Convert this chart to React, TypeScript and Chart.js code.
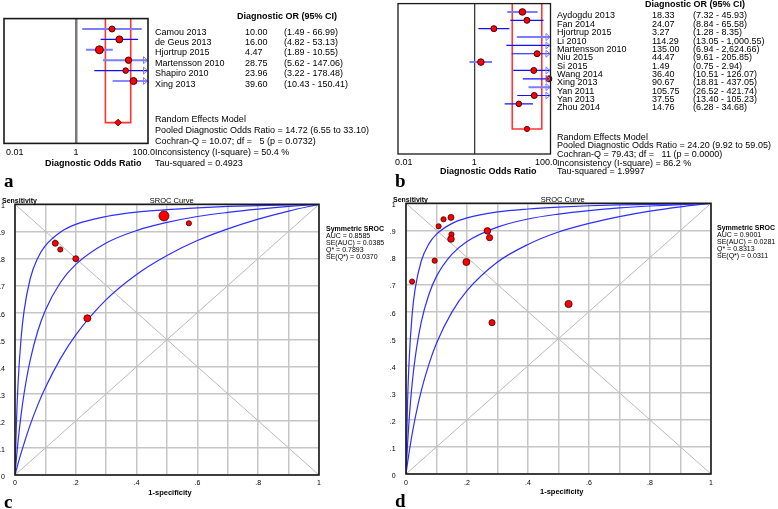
import React, { useEffect, useRef } from 'react';
import { Chart, registerables } from 'chart.js';

Chart.register(...registerables);

const FONT = '"Liberation Sans", Arial, Helvetica, sans-serif';
const SERIF = '"Liberation Serif", "Times New Roman", serif';
const LIGHT_BLUE = '#7c7cff';
const DARK_BLUE = '#1010ff';
const CURVE_BLUE = '#2e2eff';
const RED = '#ff0000';

// ================= Panel a : forest plot =================
const studiesA = ['Camou 2013', 'de Geus 2013', 'Hjortrup 2015', 'Martensson 2010', 'Shapiro 2010', 'Xing 2013'];
const dorA = [10.0, 16.0, 4.47, 28.75, 23.96, 39.6];
const ciLowA = [1.49, 4.82, 1.89, 5.62, 3.22, 10.43];
const ciHighA = [66.99, 53.13, 10.55, 147.06, 178.48, 150.41];
const weightRadiusA = [3, 3.5, 4, 3.2, 2.8, 3.5];
const ciToneA = ['light', 'dark', 'light', 'light', 'dark', 'dark'];
const pooledA = [14.72, 6.55, 33.1];
const statsA = [
  'Random Effects Model',
  'Pooled Diagnostic Odds Ratio = 14.72 (6.55 to 33.10)',
  'Cochran-Q = 10.07; df =   5 (p = 0.0732)',
  'Inconsistency (I-square) = 50.4 %',
  'Tau-squared = 0.4923',
];

// ================= Panel b : forest plot =================
const studiesB = ['Aydogdu 2013', 'Fan 2014', 'Hjortrup 2015', 'Li 2010', 'Martensson 2010', 'Niu 2015', 'Si 2015', 'Wang 2014', 'Xing 2013', 'Yan 2011', 'Yan 2013', 'Zhou 2014'];
const dorB = [18.33, 24.07, 3.27, 114.29, 135.0, 44.47, 1.49, 36.4, 90.67, 105.75, 37.55, 14.76];
const ciLowB = [7.32, 8.84, 1.28, 13.05, 6.94, 9.61, 0.75, 10.51, 18.81, 26.52, 13.4, 6.28];
const ciHighB = [45.93, 65.58, 8.35, 1000.55, 2624.66, 205.85, 2.94, 126.07, 437.05, 421.74, 105.23, 34.68];
const weightRadiusB = [3.3, 3, 3, 3, 3, 3, 3.3, 3, 3, 3, 3, 2.8];
const ciToneB = ['light', 'dark', 'dark', 'light', 'dark', 'dark', 'light', 'dark', 'dark', 'light', 'dark', 'dark'];
const pooledB = [24.2, 9.92, 59.05];
const statsB = [
  'Random Effects Model',
  'Pooled Diagnostic Odds Ratio = 24.20 (9.92 to 59.05)',
  'Cochran-Q = 79.43; df =   11 (p = 0.0000)',
  'Inconsistency (I-square) = 86.2 %',
  'Tau-squared = 1.9997',
];

const forestHeader = 'Diagnostic OR (95% CI)';
const forestAxisTitle = 'Diagnostic Odds Ratio';
const forestTickValues = [0.01, 1, 100];
const forestTickLabels = ['0.01', '1', '100.0'];
const FOREST_MIN = 0.01;
const FOREST_MAX = 100;

// ================= SROC panels c & d =================
const srocTickYValues = [0, 0.1, 0.2, 0.3, 0.4, 0.5, 0.6, 0.7, 0.8, 0.9, 1];
const srocTickYLabels = ['0', '.1', '.2', '.3', '.4', '.5', '.6', '.7', '.8', '.9', '1'];
const srocTickXValues = [0, 0.2, 0.4, 0.6, 0.8, 1];
const srocTickXLabels = ['0', '.2', '.4', '.6', '.8', '1'];

const curveFpr = [0, 0.005, 0.01, 0.02, 0.03, 0.05, 0.075, 0.1, 0.15, 0.2, 0.3, 0.4, 0.5, 0.6, 0.7, 0.8, 0.9, 1];

const curveUpperC = [0, 0.201, 0.336, 0.505, 0.607, 0.725, 0.802, 0.847, 0.898, 0.926, 0.955, 0.971, 0.98, 0.987, 0.992, 0.995, 0.998, 1];
const curveMidC = [0, 0.066, 0.124, 0.222, 0.302, 0.424, 0.532, 0.609, 0.712, 0.778, 0.857, 0.903, 0.933, 0.955, 0.97, 0.982, 0.992, 1];
const curveLowC = [0, 0.021, 0.042, 0.081, 0.117, 0.185, 0.259, 0.323, 0.431, 0.518, 0.648, 0.741, 0.811, 0.866, 0.909, 0.945, 0.975, 1];
const fprC = [0.1325, 0.149, 0.2, 0.238, 0.49, 0.572];
const sensC = [0.856, 0.833, 0.799, 0.579, 0.957, 0.93];
const radiusC = [3, 2.6, 3, 3.5, 5, 2.6];
const legendC = ['AUC = 0.8585', 'SE(AUC) = 0.0385', 'Q* = 0.7893', 'SE(Q*) = 0.0370'];

const curveUpperD = [0, 0.26, 0.414, 0.588, 0.684, 0.787, 0.85, 0.886, 0.925, 0.946, 0.968, 0.979, 0.986, 0.991, 0.994, 0.996, 0.998, 1];
const curveMidD = [0, 0.109, 0.197, 0.332, 0.429, 0.561, 0.663, 0.73, 0.811, 0.859, 0.912, 0.942, 0.96, 0.973, 0.983, 0.99, 0.995, 1];
const curveLowD = [0, 0.041, 0.078, 0.146, 0.206, 0.307, 0.405, 0.483, 0.597, 0.677, 0.783, 0.848, 0.894, 0.926, 0.951, 0.971, 0.987, 1];
const fprD = [0.02, 0.094, 0.107, 0.123, 0.1475, 0.149, 0.1475, 0.198, 0.267, 0.274, 0.533, 0.282];
const sensD = [0.711, 0.788, 0.915, 0.941, 0.948, 0.885, 0.868, 0.783, 0.898, 0.873, 0.628, 0.559];
const radiusD = [2.6, 2.6, 2.6, 2.6, 3, 2.6, 3.3, 3.5, 3.3, 3.1, 3.6, 3.1];
const legendD = ['AUC = 0.9001', 'SE(AUC) = 0.0281', 'Q* = 0.8313', 'SE(Q*) = 0.0311'];

const srocTitle = 'SROC Curve';
const srocYTitle = 'Sensitivity';
const srocXTitle = '1-specificity';
const srocLegendTitle = 'Symmetric SROC';

// ================= layout specs =================
const specA = {
  studies: studiesA, dor: dorA, lo: ciLowA, hi: ciHighA, radius: weightRadiusA, tone: ciToneA,
  pooled: pooledA, pooledRow: 10, rowMax: 12, pooledStyle: 'rectRot', stats: statsA,
  left: 0, top: 0, width: 390, height: 170, area: [4, 18.6, 148, 143.4],
  refColor: '#7a7a7a', refWidth: 2.5, frameWidth: 1.6, tickY: 153, firstDx: 2, lastDx: 7,
  header: { x: 237, cy: 16 }, cols: [155, 245, 284], rowDy: 2.8,
  statsPos: { x: 155, cy: 119.5, step: 10.9 }, axisTitle: { x: 45, cy: 163 }, letter: { s: 'a', x: 4, base: 187 },
  lineH: 10.4,
};
const specB = {
  studies: studiesB, dor: dorB, lo: ciLowB, hi: ciHighB, radius: weightRadiusB, tone: ciToneB,
  pooled: pooledB, pooledRow: 15, rowMax: 18, pooledStyle: 'circle', stats: statsB,
  left: 390, top: 0, width: 388, height: 170, area: [8, 3.6, 160.5, 154],
  refColor: '#3a3a3a', refWidth: 1.3, frameWidth: 1.3, tickY: 163, firstDx: -3, lastDx: 7,
  header: { x: 645, cy: 4.5 }, cols: [557, 652, 693], rowDy: 3.7,
  statsPos: { x: 557, cy: 137, step: 8.6 }, axisTitle: { x: 440, cy: 171.5 }, letter: { s: 'b', x: 395, base: 187 },
  lineH: 8.4,
};
const specC = {
  upper: curveUpperC, mid: curveMidC, low: curveLowC, fpr: fprC, sens: sensC, radius: radiusC, legend: legendC,
  left: 0, top: 170, width: 390, height: 339, area: [15, 34.3, 319, 305],
  yLabelRight: 5, xLabelY: 313.3,
  yTitle: { x: 2, cy: 201 }, title: { cx: 171.7, cy: 201 }, legendPos: { x: 326, cy: 228.3, step: 7 },
  xTitle: { cx: 170, cy: 492.7 }, letter: { s: 'c', x: 4, base: 508 },
};
const specD = {
  upper: curveUpperD, mid: curveMidD, low: curveLowD, fpr: fprD, sens: sensD, radius: radiusD, legend: legendD,
  left: 390, top: 170, width: 388, height: 339, area: [16, 33.3, 321, 304],
  yLabelRight: 5.7, xLabelY: 313.3,
  yTitle: { x: 393, cy: 199.5 }, title: { cx: 562.7, cy: 200 }, legendPos: { x: 717, cy: 227.3, step: 7 },
  xTitle: { cx: 561.7, cy: 491.5 }, letter: { s: 'd', x: 395, base: 507 },
};

const fmt = (v: number) => v.toLocaleString('en-US', { minimumFractionDigits: 2, maximumFractionDigits: 2 });

function forestConfig(s: any): any {
  const [l, t, r, b] = s.area;
  const shown = s.dor.map((_: number, i: number) => i).filter((i: number) => s.dor[i] <= FOREST_MAX);
  const datasets: any[] = [];
  datasets.push({
    type: 'line',
    data: [
      { x: s.pooled[1], y: 0 }, { x: s.pooled[1], y: s.pooledRow },
      { x: s.pooled[2], y: s.pooledRow }, { x: s.pooled[2], y: 0 },
    ],
    borderColor: '#ff3434', borderWidth: 1.6, pointRadius: 0, tension: 0, order: 6,
  });
  s.lo.forEach((lo: number, i: number) => {
    datasets.push({
      type: 'line',
      data: [{ x: lo, y: i + 1 }, { x: s.hi[i], y: i + 1 }],
      borderColor: s.tone[i] === 'light' ? LIGHT_BLUE : DARK_BLUE,
      borderWidth: s.tone[i] === 'light' ? 2 : 1.2,
      pointRadius: 0, order: 4,
    });
  });
  datasets.push({
    type: 'scatter',
    data: shown.map((i: number) => ({ x: s.dor[i], y: i + 1 })),
    pointRadius: shown.map((i: number) => s.radius[i]),
    backgroundColor: RED, borderColor: '#4a0000', borderWidth: 1, clip: false, order: 1,
  });
  datasets.push({
    type: 'scatter',
    data: [{ x: s.pooled[0], y: s.pooledRow }],
    pointStyle: s.pooledStyle, pointRadius: s.pooledStyle === 'circle' ? 2.6 : 3.3,
    backgroundColor: RED, borderColor: '#7a0000', borderWidth: 1, clip: false, order: 0,
  });
  const decor = {
    id: 'forestDecor',
    afterDraw(chart: any) {
      const { ctx, chartArea: a } = chart;
      const x = chart.scales.x;
      const y = chart.scales.y;
      ctx.save();
      s.hi.forEach((h: number, i: number) => {
        if (h > x.max) {
          const py = y.getPixelForValue(i + 1);
          ctx.beginPath();
          ctx.moveTo(a.right - 4.5, py - 3.5);
          ctx.lineTo(a.right - 0.5, py);
          ctx.lineTo(a.right - 4.5, py + 3.5);
          ctx.closePath();
          ctx.strokeStyle = LIGHT_BLUE;
          ctx.lineWidth = 1;
          ctx.stroke();
        }
      });
      ctx.strokeStyle = '#1a1a1a';
      ctx.lineWidth = s.frameWidth;
      ctx.strokeRect(a.left, a.top, a.right - a.left, a.bottom - a.top);
      ctx.font = `9px ${FONT}`;
      ctx.fillStyle = '#000';
      ctx.textBaseline = 'middle';
      forestTickValues.forEach((v, i) => {
        const px = x.getPixelForValue(v);
        if (i === 0) {
          ctx.textAlign = 'left';
          ctx.fillText(forestTickLabels[i], px + s.firstDx, s.tickY);
        } else if (i === forestTickValues.length - 1) {
          ctx.textAlign = 'right';
          ctx.fillText(forestTickLabels[i], px + s.lastDx, s.tickY);
        } else {
          ctx.textAlign = 'center';
          ctx.fillText(forestTickLabels[i], px, s.tickY);
        }
      });
      ctx.restore();
    },
  };
  return {
    type: 'scatter',
    data: { datasets },
    options: {
      animation: false, responsive: false, events: [],
      layout: { autoPadding: false, padding: { left: l, top: t, right: s.width - r, bottom: s.height - b } },
      plugins: { legend: { display: false }, tooltip: { enabled: false } },
      scales: {
        x: {
          type: 'logarithmic', min: FOREST_MIN, max: FOREST_MAX,
          afterBuildTicks: (sc: any) => { sc.ticks = forestTickValues.map((v) => ({ value: v })); },
          ticks: { display: false },
          grid: {
            drawTicks: false, lineWidth: s.refWidth,
            color: (c: any) => (c.tick && c.tick.value === 1 ? s.refColor : 'rgba(0,0,0,0)'),
          },
          border: { display: false },
        },
        y: { type: 'linear', min: 0, max: s.rowMax, reverse: true, display: false },
      },
    },
    plugins: [decor],
  };
}

function srocConfig(s: any): any {
  const [l, t, r, b] = s.area;
  const curve = (ys: number[]) => ({
    type: 'line',
    data: curveFpr.map((x, i) => ({ x, y: ys[i] })),
    borderColor: CURVE_BLUE, borderWidth: 1.2, pointRadius: 0,
    cubicInterpolationMode: 'monotone', order: 3,
  });
  const datasets: any[] = [
    curve(s.upper), curve(s.mid), curve(s.low),
    {
      type: 'scatter',
      data: s.fpr.map((x: number, i: number) => ({ x, y: s.sens[i] })),
      pointRadius: s.radius, backgroundColor: RED, borderColor: '#3c0000', borderWidth: 0.8,
      clip: false, order: 0,
    },
  ];
  const decor = {
    id: 'srocDecor',
    beforeDatasetsDraw(chart: any) {
      const { ctx } = chart;
      const x = chart.scales.x;
      const y = chart.scales.y;
      ctx.save();
      ctx.strokeStyle = '#b9b9b9';
      ctx.lineWidth = 1;
      ctx.beginPath();
      ctx.moveTo(x.getPixelForValue(x.min), y.getPixelForValue(y.min));
      ctx.lineTo(x.getPixelForValue(x.max), y.getPixelForValue(y.max));
      ctx.moveTo(x.getPixelForValue(x.min), y.getPixelForValue(y.max));
      ctx.lineTo(x.getPixelForValue(x.max), y.getPixelForValue(y.min));
      ctx.stroke();
      ctx.restore();
    },
    afterDraw(chart: any) {
      const { ctx, chartArea: a } = chart;
      const x = chart.scales.x;
      const y = chart.scales.y;
      ctx.save();
      ctx.strokeStyle = '#1a1a1a';
      ctx.lineWidth = 1.6;
      ctx.strokeRect(a.left, a.top, a.right - a.left, a.bottom - a.top);
      ctx.font = `7px ${FONT}`;
      ctx.fillStyle = '#000';
      ctx.textBaseline = 'middle';
      ctx.textAlign = 'right';
      srocTickYValues.forEach((v, i) => ctx.fillText(srocTickYLabels[i], s.yLabelRight, y.getPixelForValue(v) + 2));
      ctx.textAlign = 'center';
      srocTickXValues.forEach((v, i) => ctx.fillText(srocTickXLabels[i], x.getPixelForValue(v), s.xLabelY));
      ctx.restore();
    },
  };
  const axis = {
    type: 'linear', min: 0, max: 1,
    ticks: { display: false, stepSize: 0.1 },
    grid: { color: '#c6c6c6', lineWidth: 1.5, drawTicks: false },
    border: { display: false },
  };
  return {
    type: 'scatter',
    data: { datasets },
    options: {
      animation: false, responsive: false, events: [],
      layout: { autoPadding: false, padding: { left: l, top: t, right: s.width - r, bottom: s.height - b } },
      plugins: { legend: { display: false }, tooltip: { enabled: false } },
      scales: { x: { ...axis }, y: { ...axis } },
    },
    plugins: [decor],
  };
}

function ChartCanvas({ spec, make }: { spec: any; make: (s: any) => any }) {
  const ref = useRef<HTMLCanvasElement | null>(null);
  useEffect(() => {
    if (!ref.current) return;
    const chart = new Chart(ref.current, make(spec));
    return () => chart.destroy();
  }, []);
  return (
    <canvas
      ref={ref}
      width={spec.width}
      height={spec.height}
      style={{ position: 'absolute', left: spec.left, top: spec.top, width: spec.width, height: spec.height }}
    />
  );
}

type T = { s: string; x: number; cy: number; size: number; bold?: boolean; center?: boolean; serif?: boolean; lh?: number };

function Txt({ t }: { t: T }) {
  const lh = t.lh ?? Math.round(t.size * 1.25);
  return (
    <div
      style={{
        position: 'absolute', left: t.x, top: t.cy - lh / 2, height: lh, lineHeight: `${lh}px`,
        fontFamily: t.serif ? SERIF : FONT, fontSize: t.size, fontWeight: t.bold ? 'bold' : 'normal',
        whiteSpace: 'pre', color: '#000', transform: t.center ? 'translateX(-50%)' : undefined,
      }}
    >
      {t.s}
    </div>
  );
}

function letterText(l: any): T {
  const f = 19;
  return { s: l.s, x: l.x, cy: l.base - 0.3375 * f, size: f, bold: true, serif: true, lh: f };
}

function forestTexts(s: any): T[] {
  const out: T[] = [];
  const [, t, , b] = s.area;
  const step = (b - t) / s.rowMax;
  out.push({ s: forestHeader, x: s.header.x, cy: s.header.cy, size: 9, bold: true });
  s.studies.forEach((name: string, i: number) => {
    const cy = s.top + t + step * (i + 1) + s.rowDy;
    out.push({ s: name, x: s.cols[0], cy, size: 9, lh: s.lineH });
    out.push({ s: s.dor[i].toFixed(2), x: s.cols[1], cy, size: 9, lh: s.lineH });
    out.push({ s: `(${fmt(s.lo[i])} - ${fmt(s.hi[i])})`, x: s.cols[2], cy, size: 9, lh: s.lineH });
  });
  s.stats.forEach((line: string, i: number) => {
    out.push({ s: line, x: s.statsPos.x, cy: s.statsPos.cy + i * s.statsPos.step, size: 9, lh: s.lineH });
  });
  out.push({ s: forestAxisTitle, x: s.axisTitle.x, cy: s.axisTitle.cy, size: 9, bold: true });
  out.push(letterText(s.letter));
  return out;
}

function srocTexts(s: any): T[] {
  const out: T[] = [];
  out.push({ s: srocYTitle, x: s.yTitle.x, cy: s.yTitle.cy, size: 7, bold: true, lh: 8 });
  out.push({ s: srocTitle, x: s.title.cx, cy: s.title.cy, size: 7.5, center: true, lh: 8 });
  out.push({ s: srocLegendTitle, x: s.legendPos.x, cy: s.legendPos.cy, size: 7, bold: true, lh: 7 });
  s.legend.forEach((line: string, i: number) => {
    out.push({ s: line, x: s.legendPos.x, cy: s.legendPos.cy + (i + 1) * s.legendPos.step, size: 7, lh: 7 });
  });
  out.push({ s: srocXTitle, x: s.xTitle.cx, cy: s.xTitle.cy, size: 7.5, bold: true, center: true, lh: 8 });
  out.push(letterText(s.letter));
  return out;
}

export default function App() {
  const texts = [...forestTexts(specA), ...forestTexts(specB), ...srocTexts(specC), ...srocTexts(specD)];
  return (
    <div style={{ position: 'fixed', left: 0, top: 0, width: 778, height: 509, background: '#fff', overflow: 'hidden' }}>
      <ChartCanvas spec={specA} make={forestConfig} />
      <ChartCanvas spec={specB} make={forestConfig} />
      <ChartCanvas spec={specC} make={srocConfig} />
      <ChartCanvas spec={specD} make={srocConfig} />
      {texts.map((t, i) => (
        <Txt key={i} t={t} />
      ))}
    </div>
  );
}
